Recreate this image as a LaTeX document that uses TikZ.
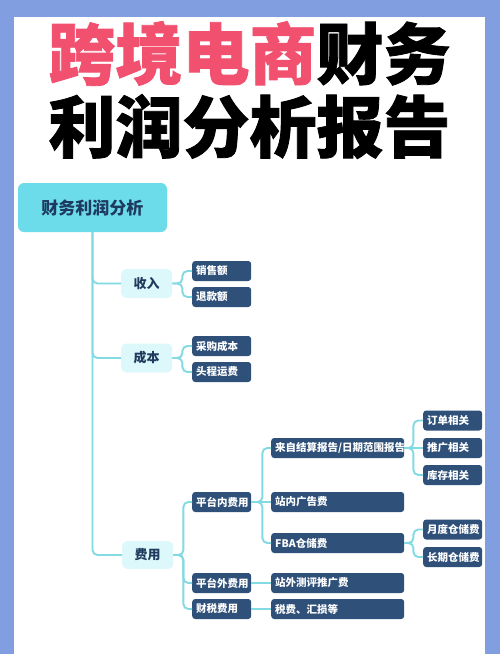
\documentclass[tikz,border=0pt]{standalone}
\usepackage{fontspec}
\newfontfamily\cjk{Noto Sans CJK SC}
\newfontfamily\cjkt{Noto Sans CJK SC}[BoldFeatures={FakeBold=1.2}]
\definecolor{frame}{HTML}{809EE0}
\definecolor{pinkt}{HTML}{F2506F}
\definecolor{navy}{HTML}{2F5079}
\definecolor{rootc}{HTML}{6CDCEA}
\definecolor{lightc}{HTML}{DDF8FA}
\definecolor{linec}{HTML}{82DAE3}
\definecolor{roott}{HTML}{1E3A5E}
\tikzset{
  conn/.style={draw=linec, line width=1.9pt, rounded corners=5pt},
  darkbox/.style={fill=navy, rounded corners=3pt, text=white, anchor=west,
    font=\cjk\bfseries\fontsize{10.5}{12}\selectfont, inner xsep=4pt, inner ysep=0pt,
    minimum height=20pt, align=left},
  wsmall/.style={text width=51pt},
  wlarge/.style={text width=125pt},
  lightbox/.style={fill=lightc, rounded corners=5pt, text=roott, anchor=west,
    font=\cjk\bfseries\fontsize{13}{15}\selectfont, minimum width=51pt, minimum height=29pt, inner sep=0pt},
  titlefont/.style={font=\cjkt\bfseries\fontsize{67}{70}\selectfont}
}
\begin{document}
\begin{tikzpicture}[x=1pt,y=-1pt]
\useasboundingbox (0,0) rectangle (500,654);
\fill[frame] (0,0) rectangle (500,654);
\fill[white] (14,17) rectangle (485,654);
% title
\node[titlefont, anchor=center] (t1) at (249.5,53.5) {\textcolor{pinkt}{跨境电商}财务};
\node[titlefont, anchor=center] (t2) at (249.5,126.5) {利润分析报告};
% root
\node[fill=rootc, rounded corners=6pt, text=roott, minimum width=149pt, minimum height=49pt,
  font=\cjk\bfseries\fontsize{17}{19}\selectfont, inner sep=0pt] (root) at (92.5,207.5) {财务利润分析};
% level 1
\node[lightbox] (sr) at (121,283.5) {收入};
\node[lightbox] (cb) at (121,358) {成本};
\node[lightbox, minimum height=28pt] (fy) at (122,555) {费用};
% level 2
\node[darkbox, wsmall] (xse) at (192,271) {销售额};
\node[darkbox, wsmall] (tke) at (192,297) {退款额};
\node[darkbox, wsmall] (cgcb) at (192,346) {采购成本};
\node[darkbox, wsmall] (tcyf) at (192,372) {头程运费};
\node[darkbox, wsmall] (ptn) at (192,502) {平台内费用};
\node[darkbox, wsmall] (ptw) at (192,583) {平台外费用};
\node[darkbox, wsmall] (cs) at (192,609) {财税费用};
% level 3
\node[darkbox, wlarge] (js) at (271,448) {来自结算报告/日期范围报告};
\node[darkbox, wlarge] (znggf) at (271,502) {站内广告费};
\node[darkbox, wlarge] (fba) at (271,543) {FBA仓储费};
\node[darkbox, wlarge] (zw) at (271,583) {站外测评推广费};
\node[darkbox, wlarge] (sf) at (271,609) {税费、汇损等};
% level 4
\node[darkbox, wsmall] (dd) at (423,420.5) {订单相关};
\node[darkbox, wsmall] (tg) at (423,448) {推广相关};
\node[darkbox, wsmall] (kc) at (423,475) {库存相关};
\node[darkbox, wsmall] (yd) at (423,529.5) {月度仓储费};
\node[darkbox, wsmall] (cq) at (423,557) {长期仓储费};
% connectors
\draw[conn] (root.south) |- (fy.west);
\draw[conn] (root.south) |- (sr.west);
\draw[conn] (root.south) |- (cb.west);
\coordinate (b1) at ([xshift=10pt]sr.east);
\draw[conn] (sr.east) -- (b1) |- (xse.west);
\draw[conn] (sr.east) -- (b1) |- (tke.west);
\coordinate (b2) at ([xshift=10pt]cb.east);
\draw[conn] (cb.east) -- (b2) |- (cgcb.west);
\draw[conn] (cb.east) -- (b2) |- (tcyf.west);
\coordinate (b3) at ([xshift=10pt]fy.east);
\draw[conn] (fy.east) -- (b3) |- (ptn.west);
\draw[conn] (fy.east) -- (b3) |- (ptw.west);
\draw[conn] (fy.east) -- (b3) |- (cs.west);
\coordinate (b4) at ([xshift=11pt]ptn.east);
\draw[conn] (ptn.east) -- (b4) |- (js.west);
\draw[conn] (ptn.east) -- (znggf.west);
\draw[conn] (ptn.east) -- (b4) |- (fba.west);
\draw[conn] (ptw.east) -- (zw.west);
\draw[conn] (cs.east) -- (sf.west);
\coordinate (b5) at ([xshift=9pt]js.east);
\draw[conn] (js.east) -- (b5) |- (dd.west);
\draw[conn] (js.east) -- (tg.west);
\draw[conn] (js.east) -- (b5) |- (kc.west);
\coordinate (b6) at ([xshift=9pt]fba.east);
\draw[conn] (fba.east) -- (b6) |- (yd.west);
\draw[conn] (fba.east) -- (b6) |- (cq.west);
\end{tikzpicture}
\end{document}
